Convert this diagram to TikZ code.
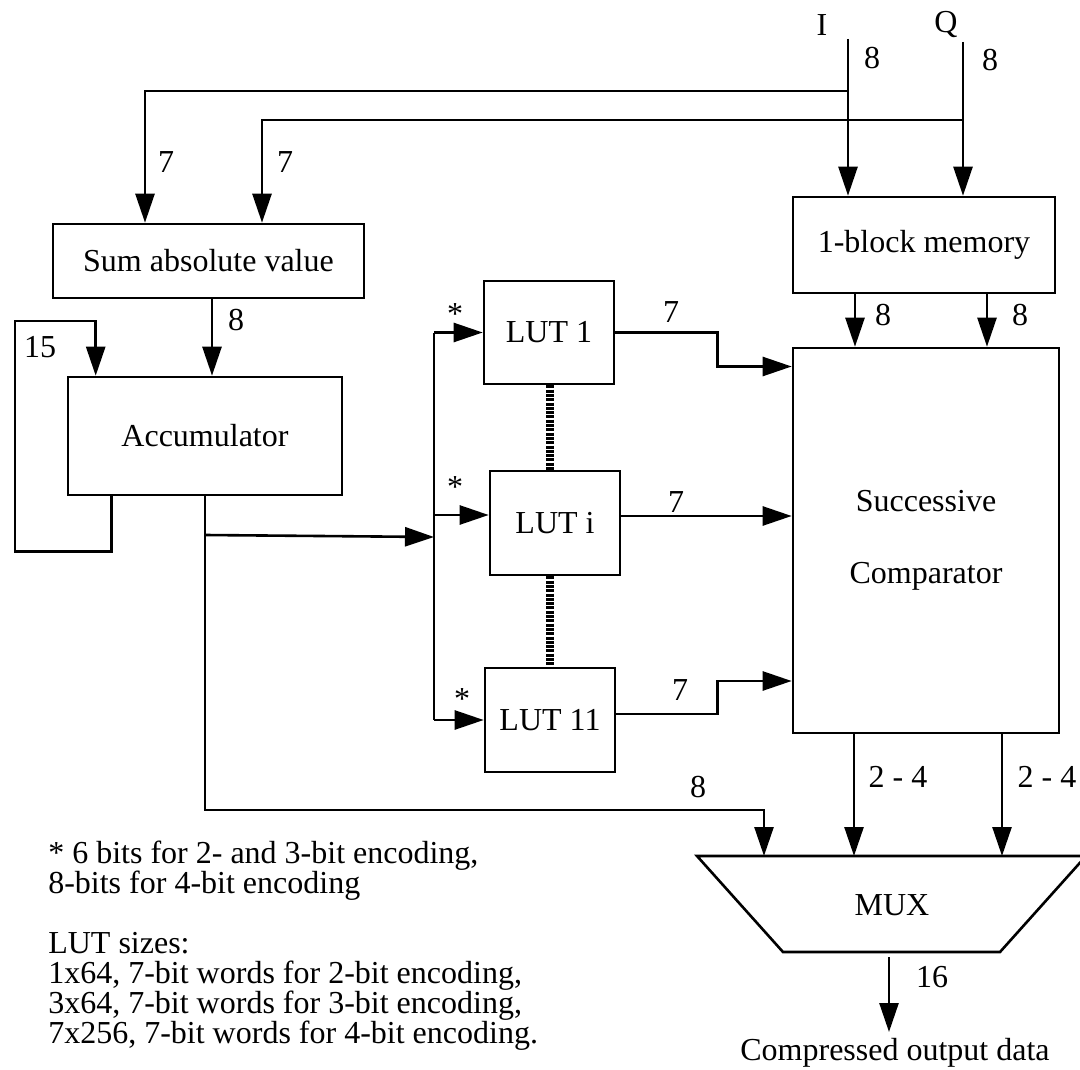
\documentclass[tikz,border=0pt]{standalone}
\usepackage{fontspec}
\setmainfont{Liberation Serif}
\usetikzlibrary{arrows.meta,calc}
\begin{document}
\begin{tikzpicture}[x=1pt,y=-1pt,
  every node/.style={font=\fontsize{32}{30}\selectfont},
  line width=2.6pt,
  blk/.style={draw, line width=2.6pt, inner sep=0pt},
  arr/.style={-{Triangle[length=29pt,width=19pt]}},
  ladder/.style={line width=8pt, dash pattern=on 3pt off 1.3pt},
  lbl/.style={inner sep=0pt},
  note/.style={inner sep=0pt, anchor=base west}
]
\useasboundingbox (0,0) rectangle (1080,1070);
\clip (0,0) rectangle (1080,1070);

% blocks
\node[blk, minimum width=311pt, minimum height=74pt] (sum) at (208.5,261) {Sum absolute value};
\node[blk, minimum width=274pt, minimum height=118pt] (acc) at (205,436) {Accumulator};
\node[blk, minimum width=262pt, minimum height=96pt] (mem) at (924,245) {1-block memory};
\node[blk, minimum width=266pt, minimum height=385pt, align=center] (comp) at (926,540.5) {Successive\\[42pt]Comparator};
\node[blk, minimum width=130pt, minimum height=103pt] (lut1) at (549,332.5) {LUT 1};
\node[blk, minimum width=130pt, minimum height=104pt] (luti) at (555,523) {LUT i};
\node[blk, minimum width=130pt, minimum height=104pt] (lut11) at (550,720) {LUT 11};

% MUX trapezoid
\coordinate (mtl) at (697,856);
\coordinate (mtr) at (1086,856);
\coordinate (mbr) at (1000,952);
\coordinate (mbl) at (783,952);
\draw[line join=miter] (mtl) -- (mtr) -- (mbr) -- (mbl) -- cycle;
\node (mux) at (892,905) {MUX};
\node (out) at (895,1053) {Compressed output data};
\coordinate (mo) at (889,957);
\coordinate (moe) at (889,1032);
\draw[arr] (mo) -- (moe);

% inputs I and Q
\node (I) at (822,25) {I};
\node (Q) at (946,25) {Q};
\coordinate (iin) at (848,39);
\coordinate (qin) at (963,42);
\coordinate (ij) at (848,91);
\coordinate (qj) at (963,120);
\draw[arr] (iin) -- (iin |- mem.north);
\draw[arr] (qin) -- (qin |- mem.north);
\draw[arr] (ij) -| ([xshift=-63.5pt]sum.north);
\draw[arr] (qj) -| ([xshift=53.5pt]sum.north);

% sum -> accumulator
\draw[arr] ([xshift=3.5pt]sum.south) -- ([xshift=3.5pt]sum.south |- acc.north);

% feedback loop
\draw[arr] ([xshift=45pt]acc.south west) -- ++(0,55) -| (15,321) -| ([xshift=29pt]acc.north west);

% accumulator -> MUX
\coordinate (accy) at (0,810);
\coordinate (m1) at (764,856);
\draw[arr] (acc.south) -- (acc.south |- accy) -| (m1);

% accumulator -> LUT bus
\coordinate (accb) at (0,535);
\coordinate (busin) at (434,537);
\draw[arr] (acc.south |- accb) -- (busin);
\coordinate (bt) at (lut1.west -| busin);
\coordinate (bb) at (lut11.west -| busin);
\draw (bt) -- (bb);
\draw[arr] (bt) -- (lut1.west);
\coordinate (liw) at ([yshift=8pt]luti.west);
\draw[arr] (liw -| busin) -- (liw);
\draw[arr] (bb) -- (lut11.west);

% ladder connectors between LUTs
\coordinate (lad) at (550,0);
\draw[ladder] (lut1.south -| lad) -- (luti.north -| lad);
\draw[ladder] (luti.south -| lad) -- (lut11.north -| lad);

% LUT outputs
\draw[arr] (lut1.east) -- ++(102,0) -- ++(0,34) coordinate (k1) -- (k1 -| comp.west);
\coordinate (lie) at ([yshift=7pt]luti.east);
\draw[arr] (lie) -- (lie -| comp.west);
\coordinate (l11e) at ([yshift=6pt]lut11.east);
\draw[arr] (l11e) -- ++(101,0) -- ++(0,-33) coordinate (k3) -- (k3 -| comp.west);

% memory -> comparator
\coordinate (ma) at ([xshift=-69pt]mem.south);
\coordinate (mb) at ([xshift=63pt]mem.south);
\draw[arr] (ma) -- (ma |- comp.north);
\draw[arr] (mb) -- (mb |- comp.north);

% comparator -> MUX
\coordinate (m2) at (854,856);
\coordinate (m3) at (1002,856);
\draw[arr] (comp.south -| m2) -- (m2);
\draw[arr] (comp.south -| m3) -- (m3);

% bus width labels
\node[lbl] (t8i) at (872,58) {8};
\node[lbl] (t8q) at (990,60) {8};
\node[lbl] (t7a) at (166,162) {7};
\node[lbl] (t7b) at (285,162) {7};
\node[lbl] (t8s) at (236,320) {8};
\node[lbl] (t15) at (40,347) {15};
\node[lbl] (s1) at (455,314) {*};
\node[lbl] (s2) at (455,487) {*};
\node[lbl] (s3) at (462,699) {*};
\node[lbl] (t7l1) at (671,312) {7};
\node[lbl] (t7li) at (676,502) {7};
\node[lbl] (t7l11) at (680,690) {7};
\node[lbl] (t8m1) at (883,315) {8};
\node[lbl] (t8m2) at (1020,315) {8};
\node[lbl] (t8a) at (698,787) {8};
\node[lbl] (t24a) at (898,777) {2 - 4};
\node[lbl] (t24b) at (1047,777) {2 - 4};
\node[lbl] (t16) at (932,977) {16};

% notes
\node[note] (n1) at (47,863) {* 6 bits for 2- and 3-bit encoding,};
\node[note] (n2) at (47,893) {8-bits for 4-bit encoding};
\node[note] (n3) at (47,953) {LUT sizes:};
\node[note] (n4) at (47,983) {1x64, 7-bit words for 2-bit encoding,};
\node[note] (n5) at (47,1013) {3x64, 7-bit words for 3-bit encoding,};
\node[note] (n6) at (47,1043) {7x256, 7-bit words for 4-bit encoding.};
\end{tikzpicture}
\end{document}
